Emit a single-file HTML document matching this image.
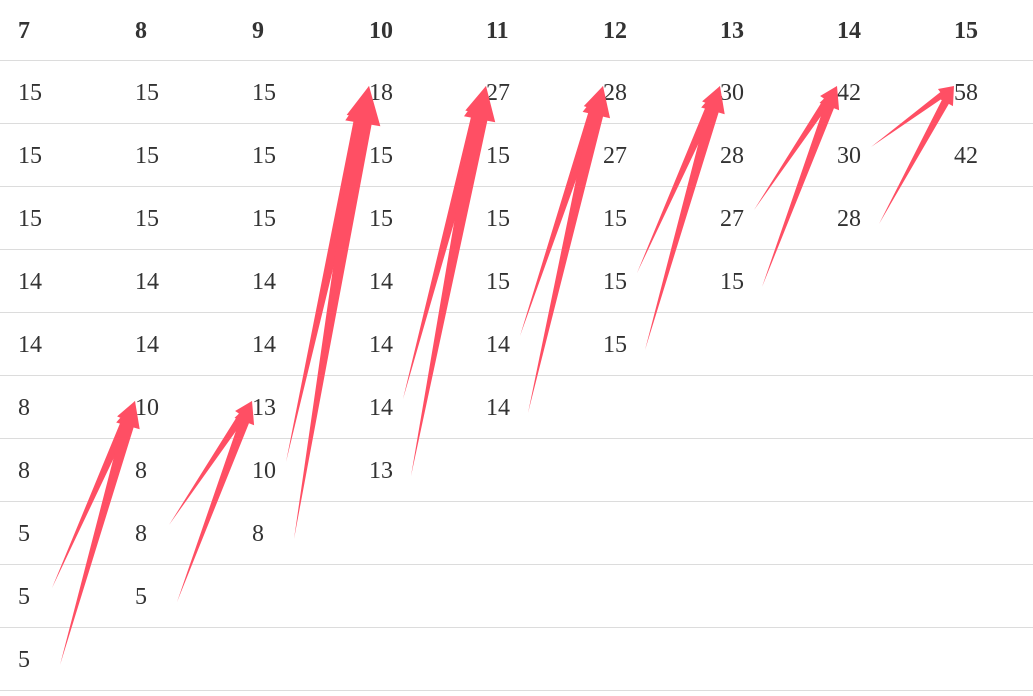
<!DOCTYPE html>
<html><head><meta charset="utf-8"><style>
body{margin:0;background:#fff;width:1033px;height:696px;overflow:hidden;font-family:"Liberation Serif",serif;}
svg{position:absolute;left:0;top:0}
</style></head><body>
<svg id="chart" width="1033" height="696"></svg>
<script>
const headers=[7,8,9,10,11,12,13,14,15];
const col7=[15,15,15,14,14,8,8,5,5,5];
const col8=[15,15,15,14,14,10,8,8,5];
const col9=[15,15,15,14,14,13,10,8];
const col10=[18,15,15,14,14,14,13];
const col11=[27,15,15,15,14,14];
const col12=[28,27,15,15,15];
const col13=[30,28,27,15];
const col14=[42,30,28];
const col15=[58,42];
const columns=[col7,col8,col9,col10,col11,col12,col13,col14,col15];
// merges: source column index, two source row indices, target row index in next column
const mergeFromCol=[0,1,2,3,4,5,6,7];
const mergeSrcA=[8,7,6,5,4,3,2,1];
const mergeSrcB=[9,8,7,6,5,4,3,2];
const mergeTo=[5,5,0,0,0,0,0,0];

const NS="http://www.w3.org/2000/svg";
const svg=document.getElementById('chart');
const colX=i=>18+i*117;
const rowY=r=>92+r*63; // text center
function mk(t,a){const e=document.createElementNS(NS,t);for(const k in a)e.setAttribute(k,a[k]);svg.appendChild(e);return e;}

for(let r=0;r<=10;r++){
  const l=mk('line',{x1:0,x2:1033,y1:60.5+r*63,y2:60.5+r*63,stroke:'#dcdcdc','stroke-width':1});
  
  
}
headers.forEach((h,i)=>{
  const t=mk('text',{x:colX(i),y:38,'font-size':24,'font-weight':'bold',fill:'#333'});
  t.textContent=h;
  
  
});
columns.forEach((c,i)=>c.forEach((v,r)=>{
  const t=mk('text',{x:colX(i),y:rowY(r)+8,'font-size':24,fill:'#333'});
  t.textContent=v;
  
  
}));

function arrow(x1,y1,x2,y2){
  const dx=x2-x1,dy=y2-y1,len=Math.hypot(dx,dy);
  const ux=dx/len,uy=dy/len,px=-uy,py=ux;
  const w=1.5+len*0.016,hl=8+len*0.065,hw=4+len*0.03;
  const bx=x2-ux*hl,by=y2-uy*hl;
  const pts=[[x1,y1],[bx+px*w,by+py*w],[bx+px*hw,by+py*hw],[x2,y2],[bx-px*hw,by-py*hw],[bx-px*w,by-py*w]];
  const p=mk('polygon',{points:pts.map(q=>q.join(',')).join(' '),fill:'#ff4f64'});
  
  
}
mergeFromCol.forEach((c,k)=>{
  const hx=colX(c+1),hy=rowY(mergeTo[k])-6;
  arrow(colX(c)+34,rowY(mergeSrcA[k])-8,hx,hy);
  arrow(colX(c)+42,rowY(mergeSrcB[k])+6,hx,hy);
});
</script>
</body></html>
